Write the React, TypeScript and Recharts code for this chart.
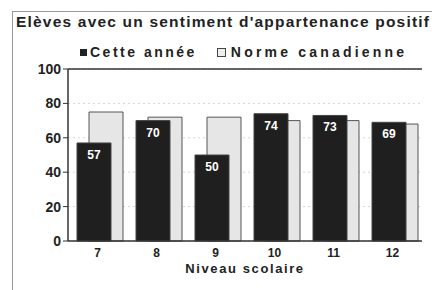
import React from "react";
import {
  BarChart,
  Bar,
  XAxis,
  YAxis,
  CartesianGrid,
  ReferenceLine,
  LabelList,
  Rectangle,
} from "recharts";

const grades = ["7", "8", "9", "10", "11", "12"];
const cetteAnnee = [57, 70, 50, 74, 73, 69];
const normeCanadienne = [75, 72, 72, 70, 70, 68];
const yTicks = [0, 20, 40, 60, 80, 100];

const data = grades.map((g, i) => ({
  grade: g,
  cette: cetteAnnee[i],
  norme: normeCanadienne[i],
}));

const font = "'Liberation Sans', Arial, sans-serif";
const DARK_DX = -4;
const LIGHT_DX = 8;

const shifted = (dx: number, fill: string, stroke: string) => (props: any) => (
  <Rectangle
    x={props.x + dx}
    y={props.y}
    width={props.width}
    height={props.height}
    fill={fill}
    stroke={stroke}
    strokeWidth={1}
  />
);

const valueLabel = (props: any) => {
  const { x, y, width, value } = props;
  return (
    <text
      x={x + width / 2 + DARK_DX}
      y={y + 16}
      textAnchor="middle"
      fill="#fff"
      fontSize={12}
      fontWeight="bold"
      fontFamily={font}
    >
      {value}
    </text>
  );
};

export default function App() {
  return (
    <div style={{ position: "absolute", left: 0, top: 0, width: 432, height: 290, background: "#fff", fontFamily: font }}>
      <div style={{ position: "absolute", left: 12, top: 11, width: 430, height: 290, borderLeft: "1.5px solid #999", borderTop: "1.5px solid #999" }} />
      <div style={{ position: "absolute", left: 16, top: 13, fontSize: 15.5, fontWeight: "bold", color: "#222", whiteSpace: "nowrap", letterSpacing: 1.2 }}>
        Elèves avec un sentiment d'appartenance positif
      </div>
      <div style={{ position: "absolute", left: 80, top: 44, fontSize: 14, fontWeight: "bold", color: "#222", whiteSpace: "nowrap", letterSpacing: 2.5, display: "flex", alignItems: "center" }}>
        <span style={{ display: "inline-block", width: 7, height: 7, background: "#222", marginRight: 3 }} />
        Cette année
        <span style={{ display: "inline-block", width: 7, height: 7, background: "#eee", border: "1px solid #444", marginLeft: 20, marginRight: 5 }} />
        <span style={{ letterSpacing: 3.2 }}>Norme canadienne</span>
      </div>
      <div style={{ position: "absolute", left: 0, top: 0 }}>
        <BarChart
          width={432}
          height={290}
          data={data}
          margin={{ top: 69, right: 10, bottom: 0, left: 28 }}
        >
          <CartesianGrid vertical={false} stroke="#d6d6d6" strokeDasharray="2 3" />
          <XAxis
            xAxisId="a"
            dataKey="grade"
            axisLine={{ stroke: "#333", strokeWidth: 1.5 }}
            tickLine={false}
            tick={{ fontSize: 12, fontWeight: "bold", fill: "#222", fontFamily: font }}
            tickMargin={1}
            label={{ value: "Niveau scolaire", position: "insideBottom", offset: 17, fontSize: 13, fontWeight: "bold", fill: "#222", fontFamily: font, letterSpacing: 1.6 }}
            height={49}
          />
          <XAxis xAxisId="b" dataKey="grade" hide />
          <YAxis
            domain={[0, 100]}
            ticks={yTicks}
            width={40}
            axisLine={{ stroke: "#333", strokeWidth: 1.5 }}
            tickLine={{ stroke: "#333" }}
            tickSize={5}
            tick={{ fontSize: 14, fontWeight: "bold", fill: "#222", fontFamily: font }}
            interval={0}
          />
          <YAxis yAxisId="r" orientation="right" domain={[0, 100]} width={0} tick={false} tickLine={false} axisLine={{ stroke: "#555", strokeWidth: 1.5 }} />
          <ReferenceLine y={100} stroke="#333" strokeWidth={1.5} />
          <Bar
            xAxisId="b"
            dataKey="norme"
            barSize={34}
            isAnimationActive={false}
            shape={shifted(LIGHT_DX, "#e6e6e6", "#555")}
          />
          <Bar
            xAxisId="a"
            dataKey="cette"
            barSize={34}
            isAnimationActive={false}
            shape={shifted(DARK_DX, "#1f1f1f", "#444")}
          >
            <LabelList dataKey="cette" content={valueLabel} />
          </Bar>
        </BarChart>
      </div>
    </div>
  );
}
